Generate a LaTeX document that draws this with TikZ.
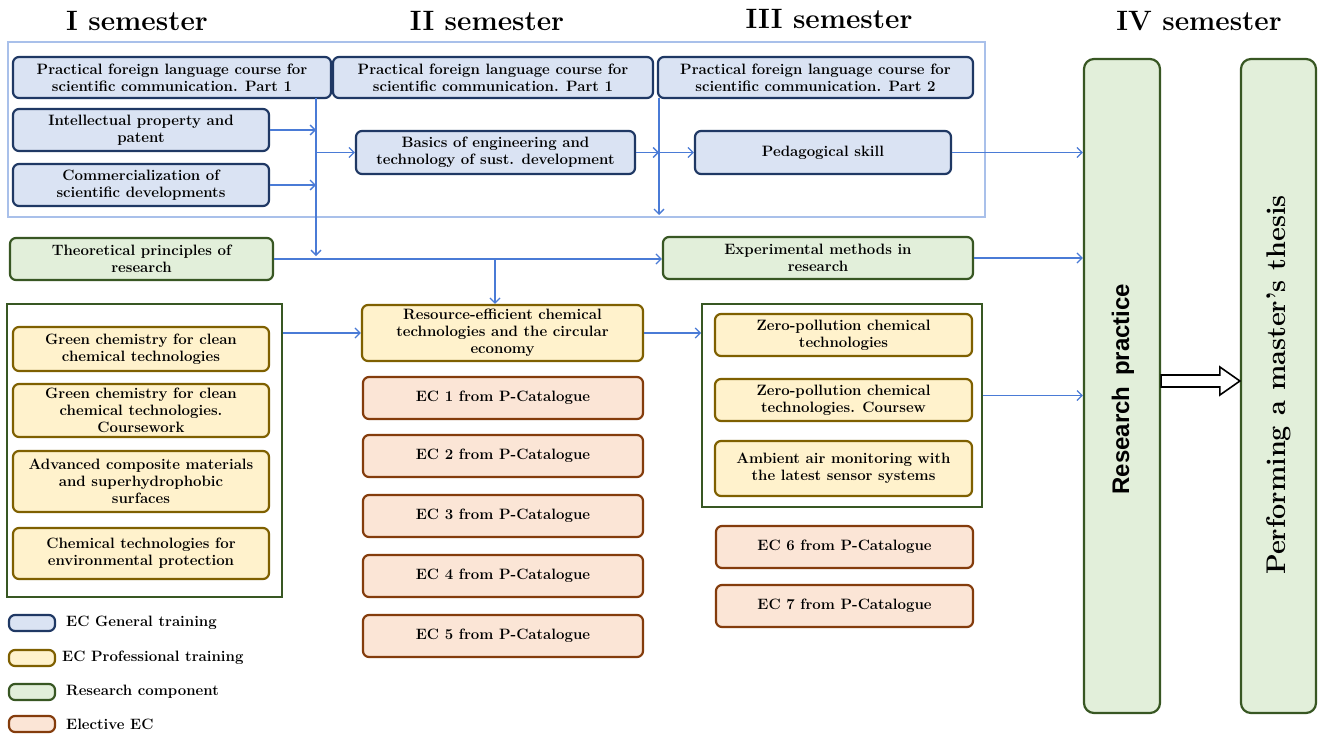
\documentclass[tikz,border=0pt]{standalone}
\usepackage{fontspec}
\newfontfamily\rpfont{Liberation Sans}
\usetikzlibrary{arrows.meta,calc}
\definecolor{genfill}{HTML}{DAE3F3}
\definecolor{gendraw}{HTML}{1F3864}
\definecolor{profill}{HTML}{FFF2CC}
\definecolor{prodraw}{HTML}{7F6000}
\definecolor{resfill}{HTML}{E2EFDA}
\definecolor{resdraw}{HTML}{385723}
\definecolor{elefill}{HTML}{FBE5D6}
\definecolor{eledraw}{HTML}{843C0C}
\definecolor{arr}{HTML}{4A7BD6}
\definecolor{frm}{HTML}{A9C0EA}
\newcommand\cbox[7]{\node[#2, minimum width={#5-#3}, minimum height={#6-#4}] (#1) at ({(#3+#5)/2},{(#4+#6)/2}) {#7};}
\begin{document}
\begin{tikzpicture}[x=1pt,y=-1pt,
  base/.style={rounded corners=6pt, line width=2.2pt, align=center, inner sep=1pt, font=\bfseries\fontsize{15}{16.8}\selectfont, text=black},
  gen/.style={base, fill=genfill, draw=gendraw},
  pro/.style={base, fill=profill, draw=prodraw},
  res/.style={base, fill=resfill, draw=resdraw},
  ele/.style={base, fill=elefill, draw=eledraw},
  big/.style={res, rounded corners=10pt},
  frameb/.style={draw=frm, line width=1.8pt, inner sep=0pt},
  frameg/.style={draw=resdraw, line width=1.8pt, inner sep=0pt},
  con/.style={draw=arr, line width=1.3pt, -{Straight Barb[length=5pt,width=10pt]}},
  hdr/.style={font=\bfseries\fontsize{28}{30}\selectfont},
  leg/.style={font=\bfseries\fontsize{15}{16}\selectfont, anchor=west, inner sep=0pt},
  legbox/.style={rounded corners=3pt, line width=2.2pt, inner sep=0pt, minimum width=46, minimum height=16},
  vtxt/.style={rotate=90, inner sep=0pt}
]
\useasboundingbox[fill=white] (0,0) rectangle (1333,734);

% headers
\node[hdr] (h1) at (137,21) {I semester};
\node[hdr] (h2) at (487,21) {II semester};
\node[hdr] (h3) at (829,19) {III semester};
\node[hdr] (h4) at (1199,21) {IV semester};

% frames
\cbox{fb}{frameb}{8}{42}{985}{217}{}
\cbox{fl}{frameg}{7}{304}{282}{597}{}
\cbox{f3}{frameg}{702}{304}{982}{507}{}

% general training
\cbox{g1}{gen}{13}{57}{331}{98}{Practical foreign language course for\\scientific communication. Part 1}
\cbox{g2}{gen}{13}{109}{269}{151}{Intellectual property and\\patent}
\cbox{g3}{gen}{13}{164}{269}{206}{Commercialization of\\scientific developments}
\cbox{g4}{gen}{333}{57}{653}{98}{Practical foreign language course for\\scientific communication. Part 1}
\cbox{g5}{gen}{356}{131}{635}{174}{Basics of engineering and\\technology of sust. development}
\cbox{g6}{gen}{658}{57}{973}{98}{Practical foreign language course for\\scientific communication. Part 2}
\cbox{g7}{gen}{695}{131}{951}{174}{Pedagogical skill}

% research component
\cbox{th}{res}{10}{238}{273}{280}{Theoretical principles of\\research}
\cbox{ex}{res}{663}{237}{973}{279}{Experimental methods in\\research}
\cbox{rp}{big}{1084}{59}{1160}{713}{}
\cbox{mt}{big}{1241}{59}{1316}{713}{}
\node[vtxt, font=\rpfont\bfseries\fontsize{24}{26}\selectfont] (rpt) at (1123,389) {Research\, practice};
\node[vtxt, font=\bfseries\fontsize{27}{30}\selectfont] (mtt) at (1279,385) {Performing a master's thesis};

% professional training
\cbox{y1}{pro}{13}{327}{269}{371}{Green chemistry for clean\\chemical technologies}
\cbox{y2}{pro}{13}{384}{269}{437}{Green chemistry for clean\\chemical technologies.\\Coursework}
\cbox{y3}{pro}{13}{451}{269}{512}{Advanced composite materials\\and superhydrophobic\\surfaces}
\cbox{y4}{pro}{13}{528}{269}{579}{Chemical technologies for\\environmental protection}
\cbox{y5}{pro}{362}{305}{643}{361}{Resource-efficient chemical\\technologies and the circular\\economy}
\cbox{y6}{pro}{715}{314}{972}{356}{Zero-pollution chemical\\technologies}
\cbox{y7}{pro}{715}{379}{972}{421}{Zero-pollution chemical\\technologies. Coursew}
\cbox{y8}{pro}{715}{441}{972}{496}{Ambient air monitoring with\\the latest sensor systems}

% electives
\cbox{e1}{ele}{363}{377}{643}{419}{EC 1 from P-Catalogue}
\cbox{e2}{ele}{363}{435}{643}{477}{EC 2 from P-Catalogue}
\cbox{e3}{ele}{363}{495}{643}{537}{EC 3 from P-Catalogue}
\cbox{e4}{ele}{363}{555}{643}{597}{EC 4 from P-Catalogue}
\cbox{e5}{ele}{363}{615}{643}{657}{EC 5 from P-Catalogue}
\cbox{e6}{ele}{716}{526}{973}{568}{EC 6 from P-Catalogue}
\cbox{e7}{ele}{716}{585}{973}{627}{EC 7 from P-Catalogue}

% legend
\node[legbox, gen] (lg1) at (32,623) {};
\node[legbox, pro] (lg2) at (32,658) {};
\node[legbox, res] (lg3) at (32,692) {};
\node[legbox, ele] (lg4) at (32,724) {};
\node[leg] (lt1) at (66,623) {EC General training};
\node[leg] (lt2) at (62,658) {EC Professional training};
\node[leg] (lt3) at (66,692) {Research component};
\node[leg] (lt4) at (66,724) {Elective EC};

% connectors
\coordinate (j1) at (316,98);
\coordinate (j1e) at (316,256);
\coordinate (j2) at (659,98);
\coordinate (j2e) at (659,215);
\coordinate (j3) at (495,258);
\draw[con] (g2.east) -- (g2.east -| j1);
\draw[con] (g3.east) -- (g3.east -| j1);
\draw[con] (j1) -- (j1e);
\draw[con] (g5.west -| j1) -- (g5.west);
\draw[con] (g5.east) -- (g5.east -| j2);
\draw[con] (j2) -- (j2e);
\draw[con] (g7.west -| j2) -- (g7.west);
\draw[con] (g7.east) -- (g7.east -| rp.west);
\draw[con] (th.east) -- (th.east -| ex.west);
\draw[con] (th.east -| j3) -- (j3 |- y5.north);
\draw[con] (ex.east) -- (ex.east -| rp.west);
\draw[con] (y5.west -| fl.east) -- (y5.west);
\draw[con] (y5.east) -- (y5.east -| f3.west);
\draw[con] ([yshift=10pt]f3.east) -- ([yshift=10pt]f3.east -| rp.west);

% hollow arrow
\coordinate (ha) at (rp.east |- 0,381);
\coordinate (hb) at (mt.west |- 0,381);
\draw[line width=1.6pt, fill=white, line join=miter] ($(ha)+(0,-6)$) -- ($(hb)+(-20,-6)$) -- ($(hb)+(-20,-14)$) -- (hb) -- ($(hb)+(-20,14)$) -- ($(hb)+(-20,6)$) -- ($(ha)+(0,6)$) -- cycle;
\end{tikzpicture}
\end{document}
